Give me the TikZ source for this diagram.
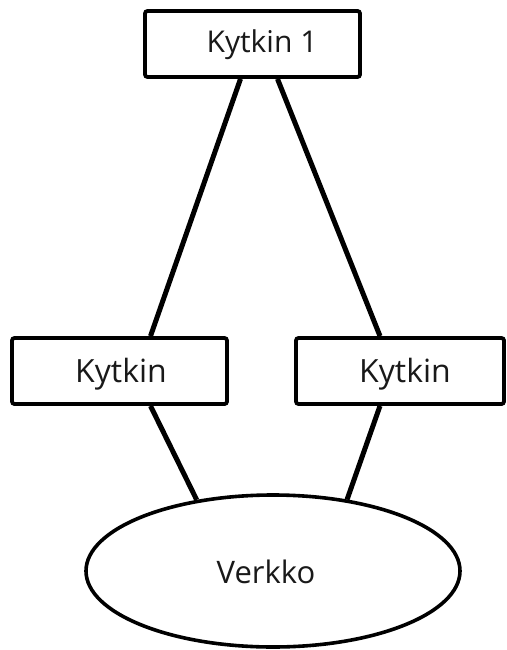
\documentclass[tikz,border=0pt]{standalone}
\usepackage{fontspec}
\setmainfont{Open Sans}
\usetikzlibrary{shapes.geometric}
\begin{document}
\begin{tikzpicture}[x=1pt,y=-1pt,
  box/.style={draw=black,line width=3.8pt,rounded corners=2.5pt,minimum width=#1,minimum height=66pt,inner sep=0pt},
  cloud/.style={draw=black,line width=3.6pt,ellipse,minimum width=374pt,minimum height=152pt,inner sep=0pt},
  link/.style={line width=5pt},
  lbl/.style={anchor=base,inner sep=0pt,text=black!90}]
\useasboundingbox[fill=white] (0,0) rectangle (506,650);
% switches and network
\node[box=215pt] (top) at (252.5,44) {};
\node[box=215pt] (left) at (119.5,371) {};
\node[box=208pt] (right) at (400,371) {};
\node[cloud] (net) at (273,571) {};
% labels
\node[lbl,font=\fontsize{30}{32}\selectfont] (ttop) at (262,53) {Kytkin 1};
\node[lbl,font=\fontsize{32}{34}\selectfont] (tleft) at (121,382) {Kytkin};
\node[lbl,font=\fontsize{32}{34}\selectfont] (tright) at (405,382) {Kytkin};
\node[lbl,font=\fontsize{31}{33}\selectfont] (tnet) at (266,583) {Verkko};
% links
\draw[link] ([xshift=-12pt]top.south) -- ([xshift=31pt]left.north);
\draw[link] ([xshift=25pt]top.south) -- ([xshift=-20pt]right.north);
\draw[link] ([xshift=31pt]left.south) -- (net.137);
\draw[link] ([xshift=-20pt]right.south) -- (net.44);
\end{tikzpicture}
\end{document}
